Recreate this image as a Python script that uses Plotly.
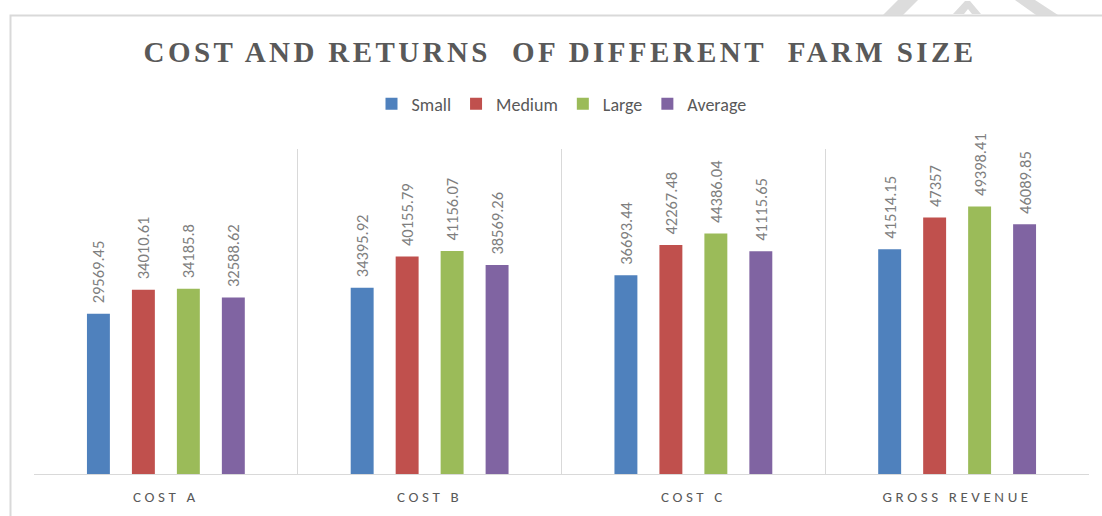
import plotly.graph_objects as go

categories = ["COST A", "COST B", "COST C", "GROSS REVENUE"]
series_names = ["Small", "Medium", "Large", "Average"]
small = [29569.45, 34395.92, 36693.44, 41514.15]
medium = [34010.61, 40155.79, 42267.48, 47357]
large = [34185.8, 41156.07, 44386.04, 49398.41]
average = [32588.62, 38569.26, 41115.65, 46089.85]
colors = ["#4f81bd", "#c0504d", "#9bbb59", "#8064a2"]

xs = list(range(len(categories)))
FONT = "Carlito, Lato, sans-serif"

# layout geometry (pixels)
W, H = 1102, 516
ML, MR, MT, MB = 34, 13, 149, 42
PW, PH = W - ML - MR, H - MT - MB


def px(x, y):
    return (x - ML) / PW, (H - MB - y) / PH


def fmt(v):
    return str(int(v)) if float(v).is_integer() else str(v)


fig = go.Figure()
for name, vals, col in zip(series_names, [small, medium, large, average], colors):
    fig.add_trace(go.Bar(
        x=xs, y=vals, name=name, marker=dict(color=col, line=dict(width=0)),
        text=["  " + fmt(v) for v in vals],
        textposition="outside", textangle=-90, cliponaxis=False, constraintext="none",
        textfont=dict(family=FONT, size=16.5, color="#7f7f7f"),
    ))

fig.update_layout(
    width=W, height=H,
    margin=dict(l=ML, r=MR, t=MT, b=MB, autoexpand=False),
    paper_bgcolor="white", plot_bgcolor="white",
    barmode="group", bargap=0.318, bargroupgap=0.49,
    title=dict(text="COST AND RETURNS  OF DIFFERENT  FARM SIZE",
               x=0.4986, xref="paper", xanchor="center", y=1 - 52 / 516, yanchor="middle",
               font=dict(family="Liberation Serif, Times New Roman, serif", size=29, color="#595959", weight="bold")),
    legend=dict(orientation="h", x=0.5, xanchor="center", y=px(0, 104)[1], yanchor="middle",
                font=dict(family=FONT, size=18, color="#595959"),
                itemwidth=30, traceorder="normal"),
    xaxis=dict(range=[-0.5, 3.5], tickvals=xs, ticktext=categories, ticks="", showgrid=False,
               showline=True, linecolor="#d9d9d9", linewidth=1, zeroline=False, automargin=False,
               tickfont=dict(family=FONT, size=15, color="#595959"),
               ticklabelstandoff=9,
               minor=dict(tick0=0.5, dtick=1, showgrid=True, gridcolor="#d9d9d9", gridwidth=1)),
    yaxis=dict(range=[0, 60000], showticklabels=False, showgrid=False, zeroline=False,
               showline=False, automargin=False),
    showlegend=True,
)

# outer chart border
x0, y0 = px(10.5, 15.5)
x1, y1 = px(1110, 525)
fig.add_shape(type="rect", xref="paper", yref="paper", x0=x0, x1=x1, y0=y1, y1=y0,
              line=dict(color="#d9d9d9", width=2), fillcolor="rgba(0,0,0,0)", layer="below")

# faint watermark fragments at top right
wm_polys = [
    [(883, 15), (903, 15), (918, 0), (898, 0)],
    [(953, 14), (964, 14), (968, 9), (972, 14), (981, 14), (970, 1), (965, 1)],
    [(1015, 0), (1035, 0), (1058, 15), (1036, 15)],
]
for poly in wm_polys:
    pts = [px(a, b) for a, b in poly]
    path = "M " + " L ".join(f"{a},{b}" for a, b in pts) + " Z"
    fig.add_shape(type="path", xref="paper", yref="paper", path=path,
                  fillcolor="#dcdcdc", line=dict(width=0), layer="above")

post = """
document.body.style.margin = '0px';
function styleText() {
  document.querySelectorAll('.gtitle').forEach(function(e){ e.style.letterSpacing = '3.4px'; });
  document.querySelectorAll('.xtick text').forEach(function(e){ e.style.letterSpacing = '3.6px'; });
}
styleText();
var gd = document.getElementById('{plot_id}');
if (gd && gd.on) { gd.on('plotly_afterplot', styleText); }
"""

fig.write_html("out.html", post_script=post, config={"displayModeBar": False})
